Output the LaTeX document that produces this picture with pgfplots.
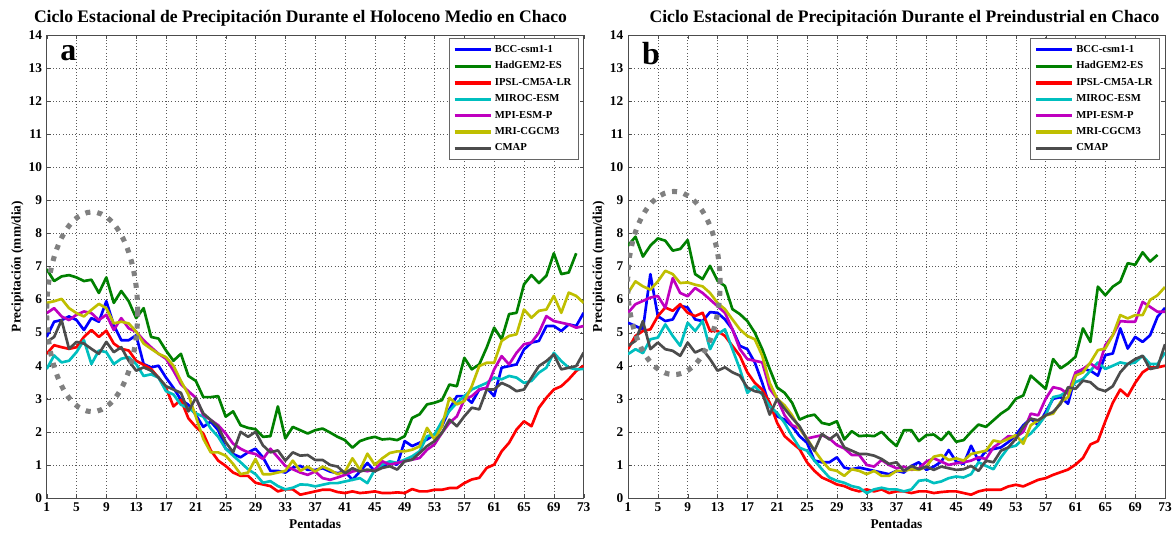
\documentclass[border=0pt]{standalone}
\usepackage{fontspec}
\setmainfont{Liberation Serif}
\usepackage{pgfplots}
\pgfplotsset{compat=1.18}
\usepackage{pgfplotstable}

\definecolor{mblue}{rgb}{0,0,1}
\definecolor{mgreen}{rgb}{0,0.5,0}
\definecolor{mred}{rgb}{1,0,0}
\definecolor{mcyan}{rgb}{0,0.75,0.75}
\definecolor{mmag}{rgb}{0.75,0,0.75}
\definecolor{myel}{rgb}{0.75,0.75,0}
\definecolor{mgray}{rgb}{0.3,0.3,0.3}
\definecolor{elgray}{rgb}{0.5,0.5,0.5}

\pgfplotstableread{
p bcc had ipsl miroc mpi mri cmap
1 4.87 6.92 4.36 3.90 5.59 5.90 4.72
2 5.33 6.56 4.62 4.31 5.74 5.95 4.87
3 5.38 6.70 4.56 4.10 5.49 6.02 5.38
4 5.49 6.74 4.51 4.15 5.38 5.74 4.51
5 5.38 6.67 4.56 4.41 5.54 5.59 4.72
6 5.08 6.56 4.87 4.77 5.64 5.49 4.67
7 5.44 6.60 5.08 4.05 5.59 5.69 4.51
8 5.33 6.20 4.87 4.46 5.38 5.87 4.36
9 5.95 6.67 5.06 4.41 5.54 5.74 4.72
10 5.23 5.90 4.67 4.05 5.08 5.28 4.41
11 4.77 6.26 4.51 4.21 5.44 5.33 4.56
12 4.77 5.95 4.46 4.26 5.13 5.28 4.15
13 4.92 5.44 4.15 4.05 5.03 5.03 3.85
14 4.05 5.74 4.03 3.69 4.77 4.67 3.95
15 3.95 4.87 3.90 3.74 4.56 4.51 3.85
16 4.00 4.82 3.64 3.64 4.36 4.36 3.64
17 3.64 4.46 3.33 3.23 4.21 4.26 3.38
18 3.33 4.15 2.77 3.13 3.85 4.00 3.28
19 2.97 4.36 2.97 2.82 3.44 3.54 3.18
20 2.82 3.69 2.41 2.72 3.23 3.13 2.62
21 2.51 3.54 2.15 2.56 3.03 2.46 3.03
22 2.15 3.05 1.95 2.46 2.51 1.79 2.56
23 2.31 3.05 1.44 2.10 2.36 1.38 2.36
24 2.05 3.08 1.13 1.85 2.20 1.38 2.15
25 1.49 2.46 0.97 1.49 1.95 1.28 1.69
26 1.33 2.62 0.77 1.28 1.64 1.03 1.38
27 1.23 2.20 0.67 1.08 1.49 0.72 2.00
28 1.38 2.12 0.67 0.87 1.38 0.77 1.85
29 1.49 2.08 0.46 0.72 1.33 1.18 2.00
30 1.23 1.85 0.41 0.46 1.18 0.72 1.59
31 0.82 1.87 0.36 0.51 1.49 0.72 1.38
32 0.82 2.77 0.20 0.36 1.23 0.77 1.44
33 0.77 1.80 0.26 0.26 0.97 0.82 1.13
34 0.92 2.15 0.26 0.31 0.87 1.13 1.38
35 0.97 2.05 0.10 0.41 0.77 0.82 1.28
36 0.85 1.95 0.15 0.40 0.70 0.95 1.30
37 0.85 2.05 0.20 0.35 0.80 0.80 1.15
38 0.90 2.10 0.25 0.40 0.60 0.95 1.15
39 0.80 1.98 0.25 0.45 0.55 0.85 1.00
40 0.75 1.85 0.18 0.45 0.62 0.72 0.95
41 0.80 1.75 0.15 0.50 0.70 0.80 0.75
42 0.55 1.52 0.20 0.55 0.80 1.20 0.90
43 0.80 1.72 0.15 0.60 0.85 0.85 0.80
44 1.06 1.80 0.17 0.45 0.81 1.34 0.86
45 0.81 1.85 0.20 0.86 0.86 1.00 0.81
46 0.96 1.77 0.15 1.01 1.11 1.20 0.91
47 1.06 1.79 0.15 1.11 1.01 1.36 0.96
48 1.01 1.75 0.17 1.06 1.06 1.41 0.86
49 1.72 1.87 0.15 1.16 1.11 1.41 1.11
50 1.57 2.42 0.27 1.26 1.16 1.46 1.16
51 1.67 2.53 0.20 1.41 1.21 1.56 1.36
52 1.77 2.83 0.20 1.87 1.46 2.12 1.57
53 1.92 2.88 0.25 1.92 1.62 1.77 1.72
54 2.17 2.96 0.25 2.32 1.97 2.17 1.97
55 2.68 3.43 0.30 2.63 2.27 3.03 2.37
56 3.08 3.38 0.30 2.88 2.47 2.83 2.17
57 3.08 4.24 0.45 3.08 2.98 2.93 2.47
58 2.88 3.89 0.56 3.28 3.08 3.38 2.73
59 3.28 4.04 0.61 3.38 3.28 3.99 2.68
60 3.33 4.55 0.91 3.48 3.33 4.09 3.28
61 3.08 5.15 1.01 3.64 3.89 4.09 3.28
62 3.94 4.80 1.41 3.59 4.29 4.75 3.48
63 3.99 5.56 1.67 3.69 4.04 4.90 3.38
64 4.04 5.60 2.07 3.64 4.39 4.95 3.23
65 4.49 6.46 2.32 3.48 4.65 5.70 3.28
66 4.70 6.74 2.17 3.54 4.70 5.45 3.64
67 4.75 6.50 2.73 3.79 5.00 5.66 3.99
68 5.20 6.72 3.03 3.94 5.50 5.70 4.14
69 5.20 7.40 3.28 4.39 5.35 6.11 4.34
70 5.05 6.77 3.38 4.14 5.30 5.60 3.89
71 5.25 6.82 3.59 3.94 5.25 6.21 3.94
72 5.20 7.40 3.84 3.89 5.15 6.11 3.99
73 5.60 nan 4.00 3.90 5.20 5.90 4.40
}\holoceno

\pgfplotstableread{
p bcc had ipsl miroc mpi mri cmap
1 5.30 7.63 4.50 4.35 5.60 6.20 4.60
2 5.20 7.90 4.90 4.50 5.86 6.55 4.75
3 5.10 7.30 5.05 4.38 5.96 6.40 5.35
4 6.77 7.63 5.10 4.80 6.06 6.30 4.50
5 5.50 7.85 5.50 4.85 6.11 6.55 4.70
6 5.35 7.78 5.76 5.25 5.75 6.87 4.50
7 5.40 7.48 5.66 4.90 6.65 6.77 4.45
8 5.81 7.53 5.86 4.60 6.20 6.50 4.30
9 5.76 7.80 5.60 5.30 6.10 6.52 4.70
10 5.40 6.77 5.50 5.05 6.35 6.45 4.40
11 5.35 6.62 5.60 5.35 6.20 6.40 4.50
12 5.62 7.02 5.05 4.50 6.00 6.20 4.20
13 5.60 6.57 5.05 4.95 5.80 5.90 3.85
14 5.40 6.41 4.90 5.10 5.60 5.71 3.95
15 5.10 5.71 4.60 4.50 5.10 5.40 3.80
16 4.60 5.56 4.30 3.90 4.50 5.10 3.70
17 4.50 5.35 3.80 3.18 4.20 4.90 3.34
18 4.10 5.00 3.48 3.38 4.15 4.80 3.23
19 3.48 4.50 3.28 3.13 4.10 4.30 3.18
20 2.78 3.90 2.88 2.78 3.30 3.48 2.52
21 2.47 3.34 2.27 2.57 3.00 3.00 3.00
22 2.37 3.18 1.87 2.27 2.50 2.80 2.70
23 2.17 2.88 1.67 1.87 2.20 2.50 2.42
24 1.87 2.37 1.48 1.52 2.10 2.10 2.17
25 1.67 2.47 1.08 1.43 1.80 1.80 1.77
26 1.13 2.52 0.82 1.13 1.85 1.44 1.43
27 1.08 2.27 0.62 0.87 1.90 1.13 1.94
28 1.08 2.22 0.52 0.62 1.80 0.87 1.77
29 1.23 2.32 0.41 0.52 1.60 0.82 1.94
30 0.92 1.77 0.36 0.46 1.50 0.67 1.53
31 0.87 2.02 0.26 0.36 1.30 0.87 1.43
32 0.92 1.87 0.20 0.31 1.30 0.82 1.33
33 0.87 1.89 0.26 0.15 1.00 0.72 1.33
34 0.82 1.87 0.20 0.26 0.95 0.82 1.28
35 0.77 2.00 0.26 0.31 1.15 0.67 1.18
36 0.72 1.77 0.15 0.26 1.00 0.67 1.03
37 0.82 1.57 0.20 0.26 0.90 0.82 1.08
38 0.77 2.05 0.20 0.20 0.95 0.82 0.82
39 0.97 2.05 0.15 0.26 0.85 0.87 0.97
40 1.08 1.72 0.20 0.52 0.90 0.85 0.87
41 0.85 1.90 0.20 0.55 1.10 0.95 0.95
42 0.95 1.92 0.15 0.45 1.20 1.25 0.85
43 1.10 1.75 0.18 0.50 1.10 1.30 0.95
44 1.45 2.00 0.20 0.60 1.00 1.15 0.90
45 1.10 1.70 0.20 0.65 1.05 1.20 0.85
46 1.03 1.75 0.15 0.62 1.08 1.13 0.87
47 1.58 2.00 0.10 0.72 1.13 1.33 0.97
48 1.13 2.22 0.20 1.08 1.23 1.38 0.82
49 1.43 2.15 0.25 0.97 1.18 1.43 1.13
50 1.48 2.35 0.25 0.87 1.53 1.74 1.08
51 1.53 2.55 0.25 1.23 1.69 1.69 1.43
52 1.69 2.70 0.35 1.53 1.87 1.79 1.53
53 1.90 3.00 0.40 1.58 1.84 1.90 1.79
54 2.20 3.10 0.35 1.79 2.00 1.64 2.15
55 2.40 3.70 0.45 1.95 2.55 2.20 2.40
56 2.20 3.50 0.55 2.20 2.50 2.35 2.35
57 2.60 3.30 0.60 2.50 3.00 2.50 2.50
58 3.00 4.20 0.70 3.05 3.35 2.55 2.60
59 3.05 3.92 0.78 3.10 3.30 2.90 2.85
60 2.85 4.07 0.86 3.25 3.15 3.05 3.35
61 3.70 4.27 1.01 3.50 3.80 3.70 3.30
62 3.90 5.13 1.21 3.60 3.90 3.80 3.55
63 3.85 4.72 1.62 3.85 4.07 4.10 3.50
64 3.70 6.39 1.72 4.10 3.90 4.47 3.30
65 4.32 6.13 2.32 3.90 4.62 4.52 3.23
66 4.37 6.39 2.88 4.00 4.92 4.92 3.38
67 5.13 6.54 3.28 4.10 5.35 5.53 3.80
68 4.52 7.10 3.08 4.05 5.33 5.43 4.05
69 4.87 7.05 3.48 4.10 5.33 5.53 4.20
70 4.72 7.43 3.80 4.30 5.93 5.53 4.30
71 4.92 7.15 3.95 4.05 5.78 5.99 3.90
72 5.48 7.35 3.95 4.05 5.63 6.13 3.95
73 5.75 nan 4.00 4.40 5.63 6.38 4.65
}\preind

\pgfplotsset{
 chaco/.style={
  scale only axis, width=402.75pt, height=347.25pt,
  xmin=1, xmax=73, ymin=0, ymax=14,
  xtick={1,5,...,73}, ytick={0,1,...,14},
  grid=major, major grid style={dotted, black!65, line width=0.5pt},
  tick align=inside, major tick length=3pt,
  axis line style={black!70, line width=0.6pt},
  tick style={black!70},
  tick label style={font=\bfseries\normalsize},
  /pgf/number format/assume math mode=true,
  xlabel={\bfseries Pentadas}, ylabel={\bfseries Precipitación (mm/dia)},
  label style={font=\bfseries\normalsize},
  xlabel style={yshift=1pt},
  ylabel style={yshift=-3pt},
  title style={font=\bfseries\fontsize{13.2}{15}\selectfont, yshift=-3pt},
  legend style={at={(0.99,0.993)}, anchor=north east, font=\bfseries\footnotesize,
    draw=black!60, legend cell align=left, row sep=1.5pt, inner sep=3pt},
  legend image code/.code={\draw[#1, line width=2.5pt] (0,0) -- (0.95cm,0);},
  every axis plot/.append style={line width=2pt, line join=round},
  unbounded coords=discard,
 }
}

\begin{document}
\begin{tikzpicture}
\begin{axis}[chaco, at={(35pt,26.25pt)}, anchor=south west,
  title style={xshift=-11pt},
  title={Ciclo Estacional de Precipitación Durante el Holoceno Medio en Chaco}]
\addplot[mblue] table[x=p,y=bcc] {\holoceno}; \addlegendentry{BCC-csm1-1}
\addplot[mgreen] table[x=p,y=had] {\holoceno}; \addlegendentry{HadGEM2-ES}
\addplot[mred] table[x=p,y=ipsl] {\holoceno}; \addlegendentry{IPSL-CM5A-LR}
\addplot[mcyan] table[x=p,y=miroc] {\holoceno}; \addlegendentry{MIROC-ESM}
\addplot[mmag] table[x=p,y=mpi] {\holoceno}; \addlegendentry{MPI-ESM-P}
\addplot[myel] table[x=p,y=mri] {\holoceno}; \addlegendentry{MRI-CGCM3}
\addplot[mgray] table[x=p,y=cmap] {\holoceno}; \addlegendentry{CMAP}
\draw[elgray, line width=3.8pt, dash pattern=on 3.8pt off 5.2pt] (axis cs:7.1,5.63) ellipse [x radius=6.1, y radius=3.02];
\node[font=\fontsize{24}{24}\selectfont\bfseries] at (axis cs:3.9,13.45) {a};
\end{axis}
\begin{axis}[chaco, at={(471pt,26.25pt)}, anchor=south west,
  title style={xshift=6pt},
  title={Ciclo Estacional de Precipitación Durante el Preindustrial en Chaco}]
\addplot[mblue] table[x=p,y=bcc] {\preind}; \addlegendentry{BCC-csm1-1}
\addplot[mgreen] table[x=p,y=had] {\preind}; \addlegendentry{HadGEM2-ES}
\addplot[mred] table[x=p,y=ipsl] {\preind}; \addlegendentry{IPSL-CM5A-LR}
\addplot[mcyan] table[x=p,y=miroc] {\preind}; \addlegendentry{MIROC-ESM}
\addplot[mmag] table[x=p,y=mpi] {\preind}; \addlegendentry{MPI-ESM-P}
\addplot[myel] table[x=p,y=mri] {\preind}; \addlegendentry{MRI-CGCM3}
\addplot[mgray] table[x=p,y=cmap] {\preind}; \addlegendentry{CMAP}
\draw[elgray, line width=3.8pt, dash pattern=on 3.8pt off 5.2pt] (axis cs:7.15,6.5) ellipse [x radius=6.2, y radius=2.77];
\node[font=\fontsize{24}{24}\selectfont\bfseries] at (axis cs:4.1,13.45) {b};
\end{axis}
\pgfresetboundingbox
\useasboundingbox (0,0) rectangle (881.25pt,399.75pt);
\end{tikzpicture}
\end{document}
